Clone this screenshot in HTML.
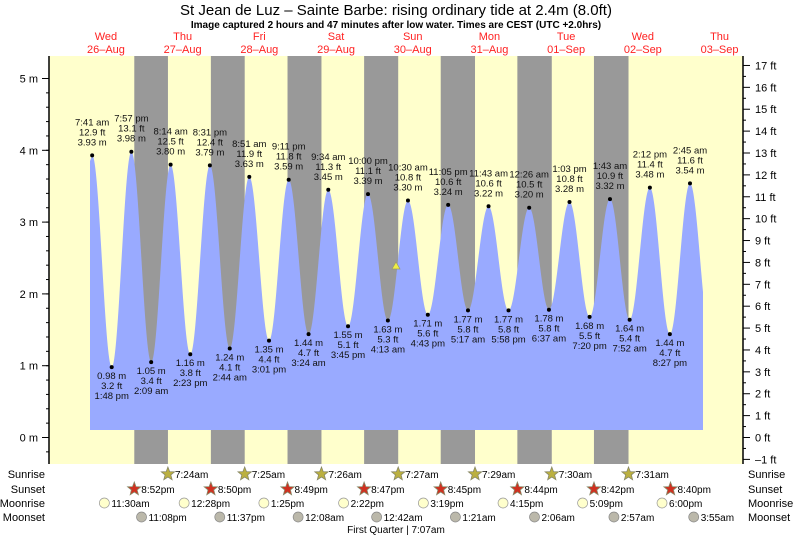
<!DOCTYPE html>
<html><head><meta charset="utf-8"><style>
body{margin:0;background:#fff;}
svg{display:block;font-family:"Liberation Sans",sans-serif;}
</style></head><body>
<svg id="s" width="793" height="537" xmlns="http://www.w3.org/2000/svg"></svg>
<script>
const s=document.getElementById('s');
let h='';
const X0=49,X1=743,Y0=56,Y1=464;
const MID=144.3,DW=76.7,PH=DW/24;
const ym=m=>437.5-m*71.8;
const tx=(d,t)=>{let [hm,ap]=t.split(/(am|pm)/);let [H,M]=hm.split(':').map(Number);if(ap=='am'&&H==12)H=0;if(ap=='pm'&&H!=12)H+=12;return MID+(d*24+H+M/60)*PH;};
h+=`<rect x="${X0}" y="${Y0}" width="${X1-X0}" height="${Y1-Y0}" fill="#ffffcc"/>`;
const ss=[[-1,'8:52pm'],[0,'8:50pm'],[1,'8:49pm'],[2,'8:47pm'],[3,'8:45pm'],[4,'8:44pm'],[5,'8:42pm'],[6,'8:40pm']];
const sr=[[0,'7:24am'],[1,'7:25am'],[2,'7:26am'],[3,'7:27am'],[4,'7:29am'],[5,'7:30am'],[6,'7:31am']];
for(let i=0;i<7;i++){const a=tx(...ss[i]),b=tx(...sr[i]);h+=`<rect x="${a}" y="${Y0}" width="${b-a}" height="${Y1-Y0}" fill="#999"/>`;}
const T=[[-1,'7:41am',3.93],[-1,'1:48pm',0.98],[-1,'7:57pm',3.98],[0,'2:09am',1.05],[0,'8:14am',3.80],[0,'2:23pm',1.16],[0,'8:31pm',3.79],[1,'2:44am',1.24],[1,'8:51am',3.63],[1,'3:01pm',1.35],[1,'9:11pm',3.59],[2,'3:24am',1.44],[2,'9:34am',3.45],[2,'3:45pm',1.55],[2,'10:00pm',3.39],[3,'4:13am',1.63],[3,'10:30am',3.30],[3,'4:43pm',1.71],[3,'11:05pm',3.24],[4,'5:17am',1.77],[4,'11:43am',3.22],[4,'5:58pm',1.77],[5,'12:26am',3.20],[5,'6:37am',1.78],[5,'1:03pm',3.28],[5,'7:20pm',1.68],[6,'1:43am',3.32],[6,'7:52am',1.64],[6,'2:12pm',3.48],[6,'8:27pm',1.44],[7,'2:45am',3.54]];
const P=T.map(t=>[tx(t[0],t[1]),t[2],t[1]]);
let pts=[[90,430]];
pts.push([90,ym(3.85)]);
for(let i=0;i<P.length-1;i++){const [xa,ya]=P[i],[xb,yb]=P[i+1];for(let x=xa;x<xb;x+=0.5){const f=(1-Math.cos(Math.PI*(x-xa)/(xb-xa)))/2;pts.push([x,ym(ya+(yb-ya)*f)]);}}
const last=P[P.length-1];const dx=last[0]-P[P.length-2][0];
for(let x=last[0];x<=703;x+=0.5){const f=(1-Math.cos(Math.PI*(x-last[0])/dx))/2;pts.push([x,ym(last[1]+(1.44-last[1])*f)]);}
pts.push([703,430]);
h+=`<polygon points="${pts.map(p=>p[0].toFixed(1)+','+p[1].toFixed(1)).join(' ')}" fill="#99aaff"/>`;
const ft=m=>(m/0.3048).toFixed(1);
P.forEach((p,i)=>{const y=ym(p[1]);const hi=i%2==0;const t=p[2].replace('am',' am').replace('pm',' pm');
h+=`<circle cx="${p[0]}" cy="${y}" r="2" fill="#000"/>`;
const L=hi?[t,ft(p[1])+' ft',p[1].toFixed(2)+' m']:[p[1].toFixed(2)+' m',ft(p[1])+' ft',t];
const by=hi?y-30:y+12;
L.forEach((s2,k)=>h+=`<text x="${p[0]}" y="${by+k*10}" font-size="9.5" text-anchor="middle" fill="#111">${s2}</text>`);});
h+=`<polygon points="396,262 392,269 400,269" fill="#ee4" stroke="#996" stroke-width="0.7"/>`;
h+=`<line x1="${X0}" y1="${Y0}" x2="${X0}" y2="${Y1}" stroke="#000" stroke-width="1.5"/><line x1="${X1}" y1="${Y0}" x2="${X1}" y2="${Y1}" stroke="#000" stroke-width="1.5"/>`;
for(let m=0;m<=5;m++){h+=`<line x1="${X0-7}" x2="${X0}" y1="${ym(m)}" y2="${ym(m)}" stroke="#000"/><text x="${X0-11}" y="${ym(m)+4}" font-size="11" text-anchor="end">${m} m</text>`;}
for(let m=-0.2;m<=5.2;m+=0.2){h+=`<line x1="${X0-3}" x2="${X0}" y1="${ym(m)}" y2="${ym(m)}" stroke="#000"/>`;}
for(let f=-1;f<=17;f++){const y=ym(f*0.3048);h+=`<line x1="${X1}" x2="${X1+7}" y1="${y}" y2="${y}" stroke="#000"/><text x="${X1+12}" y="${y+4}" font-size="11">${f<0?'\u20131':f} ft</text>`;
if(f<17){const y2=ym((f+0.5)*0.3048);h+=`<line x1="${X1}" x2="${X1+3}" y1="${y2}" y2="${y2}" stroke="#000"/>`;}}
h+=`<text x="396" y="15" font-size="15" text-anchor="middle">St Jean de Luz \u2013 Sainte Barbe: rising  ordinary tide at 2.4m (8.0ft)</text>`;
h+=`<text x="396" y="28" font-size="10" font-weight="bold" text-anchor="middle">Image captured 2 hours and 47 minutes after low water. Times are CEST (UTC +2.0hrs)</text>`;
const days=[['Wed','26\u2013Aug'],['Thu','27\u2013Aug'],['Fri','28\u2013Aug'],['Sat','29\u2013Aug'],['Sun','30\u2013Aug'],['Mon','31\u2013Aug'],['Tue','01\u2013Sep'],['Wed','02\u2013Sep'],['Thu','03\u2013Sep']];
days.forEach((d,i)=>{const x=MID+(i-1)*DW+38.35;h+=`<text x="${x}" y="40" font-size="11" fill="#f22" text-anchor="middle">${d[0]}</text><text x="${x}" y="53" font-size="11" fill="#f22" text-anchor="middle">${d[1]}</text>`;});
const lab=(y,t)=>{h+=`<text x="45" y="${y+4}" font-size="11" text-anchor="end">${t}</text><text x="748" y="${y+4}" font-size="11">${t}</text>`;};
lab(474,'Sunrise');lab(489,'Sunset');lab(503,'Moonrise');lab(517,'Moonset');
const star=(x,y,c)=>{let p=[];for(let k=0;k<10;k++){const r=k%2?3:7,a=-Math.PI/2+k*Math.PI/5;p.push((x+r*Math.cos(a)).toFixed(1)+','+(y+r*Math.sin(a)).toFixed(1));}h+=`<polygon points="${p.join(' ')}" fill="${c}" stroke="#886" stroke-width="0.8"/>`;};
sr.forEach(d=>{const x=tx(...d);star(x,474,'#bbb040');h+=`<text x="${x+7}" y="478" font-size="10">${d[1]}</text>`;});
ss.forEach(d=>{const x=tx(...d);star(x,489,'#d03020');h+=`<text x="${x+7}" y="493" font-size="10">${d[1]}</text>`;});
const mr=[[-1,'11:30am'],[0,'12:28pm'],[1,'1:25pm'],[2,'2:22pm'],[3,'3:19pm'],[4,'4:15pm'],[5,'5:09pm'],[6,'6:00pm']];
const ms=[[-1,'11:08pm'],[0,'11:37pm'],[2,'12:08am'],[3,'12:42am'],[4,'1:21am'],[5,'2:06am'],[6,'2:57am'],[7,'3:55am']];
mr.forEach(d=>{const x=tx(...d);h+=`<circle cx="${x}" cy="503" r="5" fill="#ffffcc" stroke="#999" stroke-width="0.7"/><text x="${x+7}" y="507" font-size="10">${d[1]}</text>`;});
ms.forEach(d=>{const x=tx(...d);h+=`<circle cx="${x}" cy="517" r="5" fill="#bbb8aa" stroke="#888" stroke-width="0.7"/><text x="${x+7}" y="521" font-size="10">${d[1]}</text>`;});
h+=`<text x="396" y="533" font-size="10" text-anchor="middle">First Quarter | 7:07am</text>`;
s.innerHTML=h;
</script>
</body></html>
